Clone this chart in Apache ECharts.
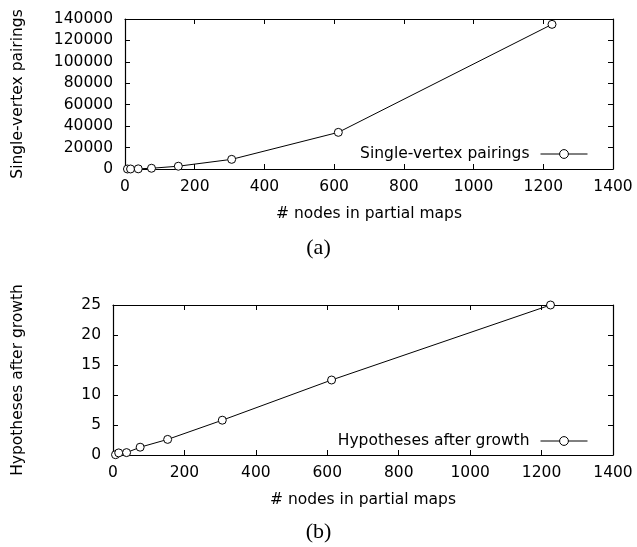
<!DOCTYPE html>
<html>
<head>
<meta charset="utf-8">
<script src="https://cdn.jsdelivr.net/npm/echarts@6/dist/echarts.min.js"></script>
<style>html,body{margin:0;padding:0;background:#fff}#c{width:637px;height:547px}</style>
</head>
<body>
<div id="c"></div>
<script>
var nodes = [7, 16, 38, 76, 153, 306, 612, 1225];
var pairings = [5, 25, 150, 700, 2600, 9000, 34200, 135000];
var hypotheses = [0.05, 0.35, 0.4, 1.3, 2.6, 5.8, 12.5, 25];
var xTicks = [0, 200, 400, 600, 800, 1000, 1200, 1400];
var yTicksA = [0, 20000, 40000, 60000, 80000, 100000, 120000, 140000];
var yTicksB = [0, 5, 10, 15, 20, 25];

var FONT = 'DejaVu Sans';
var FS = 15.5;
function pairs(xs, ys){ return xs.map(function(x,i){return [x, ys[i]];}); }
function plain(v){ return String(v); }

function xAx(grid, pos, showLabel){
  return {
    type:'value', gridIndex:grid, position:pos,
    min:xTicks[0], max:xTicks[xTicks.length-1], interval:xTicks[1]-xTicks[0],
    name: showLabel ? '# nodes in partial maps' : '',
    nameLocation:'middle', nameGap:37,
    nameTextStyle:{color:'#000', fontFamily:FONT, fontSize:FS},
    axisLine:{show:true, onZero:false, lineStyle:{color:'#000', width:1.2}},
    axisTick:{show:true, inside:true, length:5, lineStyle:{color:'#000'}},
    axisLabel:{show:showLabel, color:'#000', fontFamily:FONT, fontSize:FS, margin:10, formatter:plain},
    splitLine:{show:false}
  };
}
function yAx(grid, pos, ticks, name, showLabel){
  return {
    type:'value', gridIndex:grid, position:pos,
    min:ticks[0], max:ticks[ticks.length-1], interval:ticks[1]-ticks[0],
    name: showLabel ? name : '',
    nameLocation:'middle', nameRotate:90,
    nameGap: grid===0 ? 99 : 87,
    nameTextStyle:{color:'#000', fontFamily:FONT, fontSize:FS},
    axisLine:{show:true, onZero:false, lineStyle:{color:'#000', width:1.2}},
    axisTick:{show:true, inside:true, length:5, lineStyle:{color:'#000'}},
    axisLabel:{show:showLabel, color:'#000', fontFamily:FONT, fontSize:FS, margin:12, formatter:plain},
    splitLine:{show:false}
  };
}
function legendCfg(name, top){
  return {data:[name], right:44, top:top, align:'right', itemWidth:47, itemHeight:11,
    itemStyle:{color:'#fff', borderColor:'#000', borderWidth:1},
    lineStyle:{color:'#000', width:1},
    textStyle:{color:'#000', fontFamily:FONT, fontSize:FS, padding:[0,6,0,0]}};
}
function seriesCfg(name, xi, yi, ys){
  return {name:name, type:'line', xAxisIndex:xi, yAxisIndex:yi,
    data:pairs(nodes, ys), symbol:'circle', symbolSize:8,
    lineStyle:{color:'#000', width:1},
    itemStyle:{color:'#fff', borderColor:'#000', borderWidth:1},
    emphasis:{disabled:true}};
}

var chart = echarts.init(document.getElementById('c'), null, {renderer:'canvas'});
chart.setOption({
  animation:false,
  backgroundColor:'#fff',
  title:[
    {text:'(a)', left:'center', top:232, textStyle:{fontFamily:'Liberation Serif', fontWeight:'normal', fontSize:22, color:'#000'}},
    {text:'(b)', left:'center', top:516, textStyle:{fontFamily:'Liberation Serif', fontWeight:'normal', fontSize:22, color:'#000'}}
  ],
  grid:[
    {left:125, right:24, top:19, height:150},
    {left:113, right:24, top:305, height:150}
  ],
  xAxis:[xAx(0,'bottom',true), xAx(0,'top',false), xAx(1,'bottom',true), xAx(1,'top',false)],
  yAxis:[
    yAx(0,'left',yTicksA,'Single-vertex pairings',true), yAx(0,'right',yTicksA,'',false),
    yAx(1,'left',yTicksB,'Hypotheses after growth',true), yAx(1,'right',yTicksB,'',false)
  ],
  legend:[legendCfg('Single-vertex pairings', 141), legendCfg('Hypotheses after growth', 428)],
  series:[
    seriesCfg('Single-vertex pairings', 0, 0, pairings),
    seriesCfg('Hypotheses after growth', 2, 2, hypotheses)
  ]
});
</script>
</body>
</html>
